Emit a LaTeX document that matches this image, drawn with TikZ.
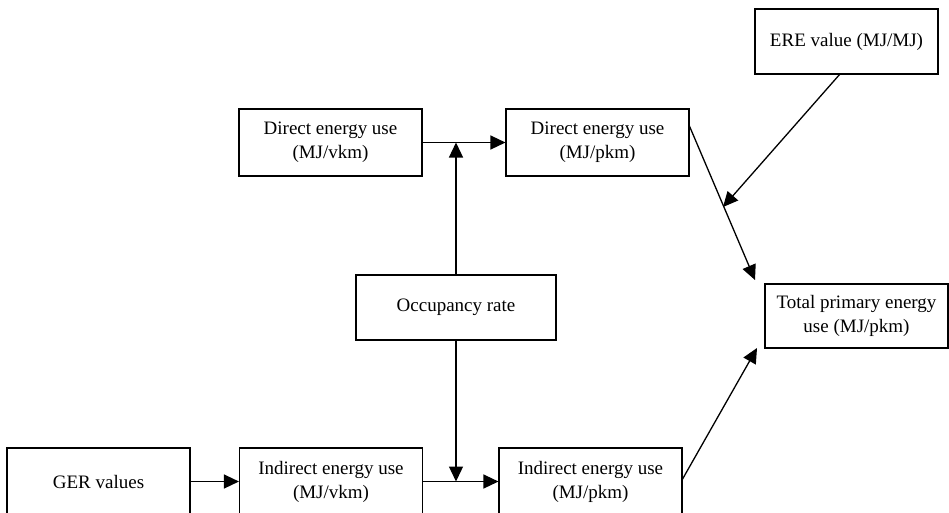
\documentclass[tikz,border=0pt]{standalone}
\usepackage{fontspec}
\setmainfont{Liberation Serif}
\usetikzlibrary{arrows.meta}
\begin{document}
\begin{tikzpicture}[x=1pt,y=-1pt,
  box/.style={draw,line width=1.1pt,minimum width=183pt,minimum height=66pt,inner sep=0pt,align=center,
    font=\fontsize{19}{24}\selectfont},
  arr/.style={line width=1.3pt,-{Triangle[length=15pt,width=14pt]}}]
\useasboundingbox (0,0) rectangle (949,512);
\node[box,minimum height=65pt] (ere) at (846.5,41.5) {ERE value (MJ/MJ)};
\node[box,minimum height=67pt] (dv) at (330.5,142.5) {Direct energy use\\(MJ/vkm)};
\node[box,minimum height=67pt] (dp) at (597.5,142.5) {Direct energy use\\(MJ/pkm)};
\node[box,minimum width=200pt,minimum height=65pt] (occ) at (456,307.5) {Occupancy rate};
\node[box,minimum height=64pt] (tot) at (856.5,316) {Total primary energy\\use (MJ/pkm)};
\node[box,minimum height=67pt] (ger) at (98.5,481.5) {GER values};
\node[box,minimum height=67pt] (iv) at (331,481.5) {Indirect energy use\\(MJ/vkm)};
\node[box,minimum height=67pt] (ip) at (590.5,481.5) {Indirect energy use\\(MJ/pkm)};
\coordinate (j1) at (456,142.5);
\coordinate (j2) at (456,481.5);
\coordinate (dps) at (689,125);
\coordinate (ips) at (682,480);
\coordinate (eres) at (840,74);
\coordinate (eret) at (723,207);
\coordinate (tott) at (755,280);
\coordinate (totb) at (757,348);
\draw[arr] (dv.east) -- (dp.west);
\draw[arr] (occ.north) -- (j1);
\draw[arr] (occ.south) -- (j2);
\draw[arr] (ger.east) -- (iv.west);
\draw[arr] (iv.east) -- (ip.west);
\draw[arr] (dps) -- (tott);
\draw[arr] (eres) -- (eret);
\draw[arr] (ips) -- (totb);
\end{tikzpicture}
\end{document}
